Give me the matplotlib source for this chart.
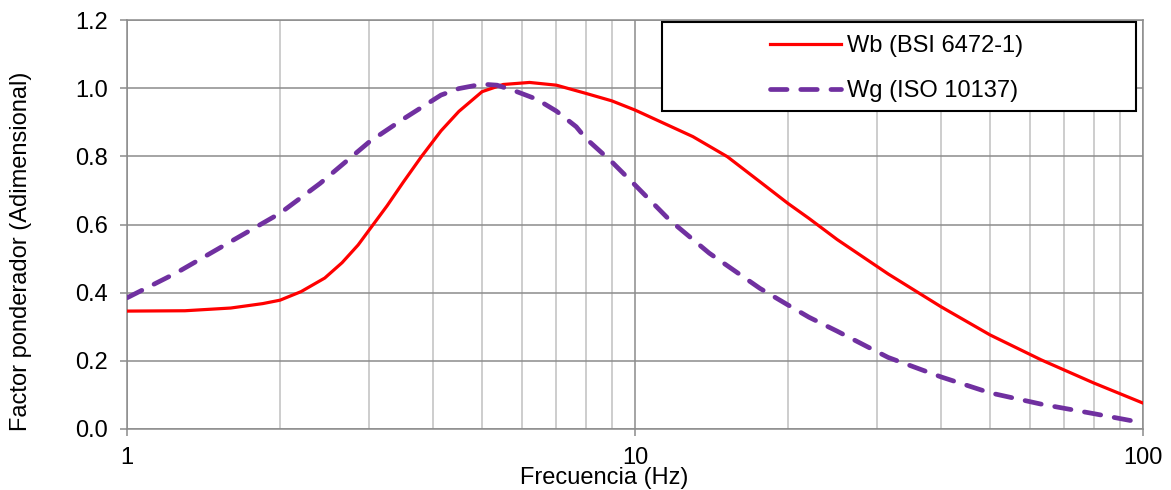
import matplotlib
matplotlib.use("Agg")
import matplotlib.pyplot as plt
from matplotlib.patches import Rectangle
from matplotlib.ticker import FixedLocator, FixedFormatter, NullFormatter, LogLocator

plt.rcParams['font.family'] = ['Liberation Sans', 'DejaVu Sans']

# Wb (BSI 6472-1) weighting
wb_freq = [1, 1.3, 1.6, 1.85, 2, 2.2, 2.45, 2.65, 2.85, 3, 3.25, 3.5, 3.8, 4.15,
           4.5, 5, 5.5, 6.2, 7, 8, 9, 10, 13, 15.2, 17.6, 20, 22, 25, 31.5,
           40, 50, 63, 80, 100]
wb_vals = [0.346, 0.347, 0.355, 0.368, 0.378, 0.403, 0.443, 0.488, 0.540, 0.585,
           0.655, 0.725, 0.800, 0.875, 0.932, 0.990, 1.011, 1.017, 1.009, 0.985,
           0.963, 0.936, 0.858, 0.799, 0.726, 0.662, 0.618, 0.556, 0.455, 0.359,
           0.276, 0.203, 0.135, 0.076]

# Wg (ISO 10137) weighting
wg_freq = [1, 1.25, 1.6, 2, 2.4, 3, 3.5, 4.15, 4.5, 5, 5.35, 5.85, 6.4, 7,
           7.66, 8, 9, 10, 11.7, 14, 17.6, 20, 22, 25, 31.5, 40, 50, 63, 80, 100]
wg_vals = [0.385, 0.458, 0.550, 0.633, 0.721, 0.843, 0.910, 0.980, 0.999, 1.012,
           1.009, 0.990, 0.968, 0.933, 0.887, 0.853, 0.784, 0.716, 0.613, 0.516,
           0.413, 0.364, 0.328, 0.287, 0.210, 0.153, 0.106, 0.073, 0.045, 0.018]

y_ticks = [0.0, 0.2, 0.4, 0.6, 0.8, 1.0, 1.2]
x_ticks = [1, 10, 100]
x_tick_labels = ['1', '10', '100']

RED = '#FF0000'
PURPLE = '#7030A0'
GRID_DARK = '#8C8C8C'
GRID_LIGHT = '#C0C0C0'

fig = plt.figure(figsize=(11.71, 4.9), dpi=100)
ax = fig.add_axes([0.1085, 0.1245, 0.8676, 0.8345])

ax.set_xscale('log')
ax.set_xlim(1, 100)
ax.set_ylim(0, 1.2)

ax.plot(wb_freq, wb_vals, color=RED, lw=2.3, label='Wb (BSI 6472-1)',
        solid_joinstyle='round', zorder=3)
ax.plot(wg_freq, wg_vals, color=PURPLE, lw=3.4, dashes=(3.5, 2.9),
        dash_capstyle='round', label='Wg (ISO 10137)', zorder=3)

# axes / grid
ax.xaxis.set_major_locator(FixedLocator(x_ticks))
ax.xaxis.set_major_formatter(FixedFormatter(x_tick_labels))
ax.xaxis.set_minor_locator(LogLocator(base=10, subs=range(2, 10)))
ax.xaxis.set_minor_formatter(NullFormatter())
ax.set_yticks(y_ticks)
ax.set_yticklabels([f'{v:.1f}' for v in y_ticks])

ax.grid(True, which='major', axis='y', color=GRID_DARK, lw=1.1)
ax.grid(True, which='major', axis='x', color=GRID_DARK, lw=1.1)
ax.grid(True, which='minor', axis='x', color=GRID_LIGHT, lw=1.1)
ax.set_axisbelow(True)

for s in ax.spines.values():
    s.set_color(GRID_DARK)
    s.set_linewidth(1.1)

ax.tick_params(axis='both', which='major', labelsize=17, colors='black',
               length=5, width=1.1, color=GRID_DARK)
ax.tick_params(axis='y', pad=9)
ax.tick_params(axis='x', pad=8)
ax.tick_params(axis='x', which='minor', length=0)

ax.set_xlabel('Frecuencia (Hz)', fontsize=17)
ax.set_ylabel('Factor ponderador (Adimensional)', fontsize=17)
ax.xaxis.set_label_coords(0.470, -0.092)
ax.yaxis.set_label_coords(-0.094, 0.435)

# legend box drawn separately, content sits at its right side
ax.add_patch(Rectangle((0.5266, 0.7775), 0.4664, 0.2175, transform=ax.transAxes,
                       facecolor='white', edgecolor='black', lw=1.5, zorder=4))
leg = ax.legend(loc='upper left', bbox_to_anchor=(0.633, 0.963), frameon=False,
                fontsize=17, handlelength=3.0, handletextpad=0.25,
                labelspacing=0.96, borderpad=0, borderaxespad=0)
leg.set_zorder(5)

fig.savefig('out.png', dpi=100)
